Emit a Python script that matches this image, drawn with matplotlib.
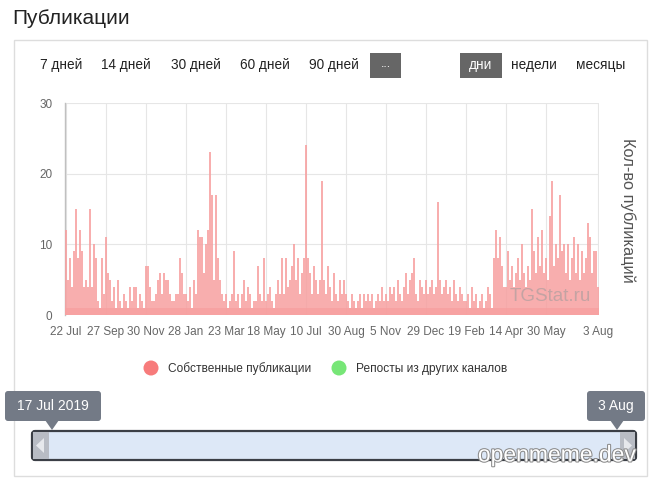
import matplotlib
matplotlib.use("Agg")
import matplotlib.pyplot as plt
from matplotlib.patches import Rectangle, FancyBboxPatch, Polygon, Circle
import matplotlib.patheffects as pe
import numpy as np

plt.rcParams['font.family'] = ['Liberation Sans', 'DejaVu Sans']

# ---- data (daily publication counts, ordinal axis) ----
seg_jul_sep = [12, 5, 8, 4, 9, 15, 8, 12, 9, 4, 5, 4, 15, 4, 10, 8, 2, 1, 8, 3]
seg_sep_nov = [11, 6, 5, 2, 4, 1, 5, 2, 1, 3, 2, 1, 4, 2, 4, 4, 1, 3, 2, 1]
seg_nov_jan = [7, 7, 4, 2, 2, 3, 5, 6, 3, 6, 5, 5, 3, 2, 2, 3, 3, 8, 6, 3]
seg_jan_mar = [3, 2, 4, 1, 5, 3, 12, 11, 11, 6, 10, 12, 23, 17, 5, 17, 8, 5, 3, 2]
seg_mar_may = [3, 1, 2, 3, 9, 2, 3, 1, 3, 5, 2, 4, 3, 1, 2, 2, 7, 3, 2, 8]
seg_may_jul = [2, 3, 4, 2, 1, 3, 5, 3, 8, 3, 8, 4, 5, 7, 10, 5, 8, 3, 6, 8]
seg_jul_aug = [24, 8, 6, 3, 7, 5, 3, 5, 19, 5, 3, 7, 4, 2, 6, 3, 2, 5, 3, 5]
seg_aug_nov = [3, 2, 1, 3, 2, 1, 2, 3, 1, 3, 2, 3, 2, 3, 1, 2, 3, 2, 4, 2]
seg_nov_dec = [3, 2, 4, 3, 4, 2, 5, 3, 2, 4, 6, 3, 5, 6, 8, 3, 2, 5, 4, 3]
seg_dec_feb = [5, 3, 4, 5, 3, 4, 16, 5, 3, 4, 5, 3, 4, 2, 5, 3, 2, 4, 3, 2]
seg_feb_apr = [2, 3, 1, 4, 2, 3, 1, 2, 3, 1, 2, 4, 3, 1, 8, 12, 8, 11, 7, 4]
seg_apr_may = [4, 9, 5, 7, 4, 6, 8, 5, 10, 6, 4, 7, 5, 15, 9, 6, 11, 7, 12, 6]
seg_may_aug = [8, 5, 14, 19, 7, 10, 8, 17, 9, 10, 6, 10, 5, 8, 11, 6, 10, 5, 9, 6,
               8, 13, 11, 6, 9, 9, 4]

tick_labels = ["22 Jul", "27 Sep", "30 Nov", "28 Jan", "23 Mar", "18 May", "10 Jul",
               "30 Aug", "5 Nov", "29 Dec", "19 Feb", "14 Apr", "30 May", "3 Aug"]
segments = [seg_jul_sep, seg_sep_nov, seg_nov_jan, seg_jan_mar, seg_mar_may, seg_may_jul,
            seg_jul_aug, seg_aug_nov, seg_nov_dec, seg_dec_feb, seg_feb_apr, seg_apr_may,
            seg_may_aug]
y_ticks = [0, 10, 20, 30]

values = [v for s in segments for v in s]
n = len(values)
tick_pos = []
acc = 0
for s in segments:
    tick_pos.append(acc)
    acc += len(s)
tick_pos.append(n - 1)

W, H = 657, 487
fig = plt.figure(figsize=(W / 100, H / 100), dpi=100)
fig.patch.set_facecolor('white')


def fx(x):
    return x / W


def fy(y):
    return 1 - y / H


# overlay axes in pixel coordinates
ov = fig.add_axes([0, 0, 1, 1])
ov.set_xlim(0, W)
ov.set_ylim(H, 0)
ov.axis('off')

# title
ov.text(12, 19, "Публикации", fontsize=15, color='#222222', va='center', ha='left')
# panel
ov.add_patch(Rectangle((13.5, 39.5), 633, 436, fill=False, edgecolor='#dddddd', lw=1))

# range buttons
btns = [("7 дней", 40), ("14 дней", 101), ("30 дней", 171), ("60 дней", 240), ("90 дней", 309)]
for t, x in btns:
    ov.text(x, 65, t, fontsize=9.8, color='#222222', va='center', ha='left')
ov.add_patch(Rectangle((370, 53), 31, 25, facecolor='#666666', edgecolor='none'))
ov.text(385.5, 64, "...", fontsize=9, color='white', va='center', ha='center')
ov.add_patch(Rectangle((460, 53), 42, 25, facecolor='#666666', edgecolor='none'))
ov.text(481, 65, "дни", fontsize=9.8, color='white', va='center', ha='center')
ov.text(511, 65, "недели", fontsize=9.8, color='#222222', va='center', ha='left')
ov.text(576, 65, "месяцы", fontsize=9.8, color='#222222', va='center', ha='left')

# main chart axes
x0, x1, ytop, ybot = 65, 599, 103, 315
ax = fig.add_axes([fx(x0), fy(ybot), fx(x1 - x0), (ybot - ytop) / H])
ax.set_zorder(2)
ax.patch.set_alpha(0)
idx = np.arange(n)
ax.bar(idx, values, width=0.6, color='#f7a0a0', alpha=0.85, edgecolor='none', zorder=3)
ax.bar(idx, [min(v, 1) for v in values], width=1.0, color='#f7a0a0', alpha=0.85,
       edgecolor='none', zorder=3)
ax.set_xlim(-0.5, n - 0.5)
ax.set_ylim(0, 30)
ax.set_yticks(y_ticks)
ax.set_yticklabels([str(v) for v in y_ticks])
ax.set_xticks(tick_pos)
ax.set_xticklabels(tick_labels)
ax.tick_params(axis='both', length=0, labelsize=8.5, colors='#666666')
ax.tick_params(axis='x', pad=8)
ax.tick_params(axis='y', pad=9)
for v in y_ticks:
    ax.axhline(v, color='#e6e6e6', lw=0.8, zorder=1)
for p in tick_pos:
    ax.axvline(p, color='#e6e6e6', lw=0.8, zorder=1)
for side in ['top', 'right', 'bottom']:
    ax.spines[side].set_visible(False)
ax.spines['left'].set_color('#c0c0c0')
ax.spines['left'].set_linewidth(1.0)
ax.text(0.985, 0.085, "TGStat.ru", transform=ax.transAxes, fontsize=13.5, color='#9a9a9a',
        alpha=0.55, ha='right', va='center', zorder=4)

# right axis title
ov.text(628, 210, "Кол-во публикаций", fontsize=11.8, color='#555555', rotation=-90,
        va='center', ha='center')

# legend
ov.add_patch(Circle((151, 368), 7.5, facecolor='#f77b7b', edgecolor='none'))
ov.text(168, 369, "Собственные публикации", fontsize=8.6, color='#333333', va='center')
ov.add_patch(Circle((339, 368), 7.5, facecolor='#77e677', edgecolor='none'))
ov.text(356, 369, "Репосты из других каналов", fontsize=8.6, color='#333333', va='center')

# navigator
ov.add_patch(FancyBboxPatch((32, 431), 604, 29, boxstyle="round,pad=0,rounding_size=3",
                            facecolor='#dde8f7', edgecolor='#3b3f46', lw=1.6))
ov.add_patch(Rectangle((33, 432), 16, 27, facecolor='#b8bcc4', edgecolor='none'))
ov.add_patch(Rectangle((620, 432), 15, 27, facecolor='#b8bcc4', edgecolor='none'))
ov.add_patch(Polygon([(44, 438), (44, 453), (36, 445.5)], closed=True, facecolor='#e6e8ec', edgecolor='none'))
ov.add_patch(Polygon([(624, 438), (624, 453), (632, 445.5)], closed=True, facecolor='#e6e8ec', edgecolor='none'))

# navigator tooltips
ov.add_patch(FancyBboxPatch((5, 391), 96, 30, boxstyle="round,pad=0,rounding_size=3",
                            facecolor='#737a86', edgecolor='none'))
ov.add_patch(Polygon([(45, 420), (59, 420), (52, 430)], closed=True, facecolor='#737a86', edgecolor='none'))
ov.text(53, 406, "17 Jul 2019", fontsize=10, color='white', ha='center', va='center')
ov.add_patch(FancyBboxPatch((587, 391), 58, 30, boxstyle="round,pad=0,rounding_size=3",
                            facecolor='#737a86', edgecolor='none'))
ov.add_patch(Polygon([(610, 420), (624, 420), (617, 430)], closed=True, facecolor='#737a86', edgecolor='none'))
ov.text(616, 406, "3 Aug", fontsize=10, color='white', ha='center', va='center')

# watermark
ov.text(636, 455, "openmeme.dev", fontsize=16.5, color='white', ha='right', va='center',
        path_effects=[pe.withStroke(linewidth=1.5, foreground='#8a8a8a')])

fig.savefig("out.png", dpi=100, facecolor='white')
